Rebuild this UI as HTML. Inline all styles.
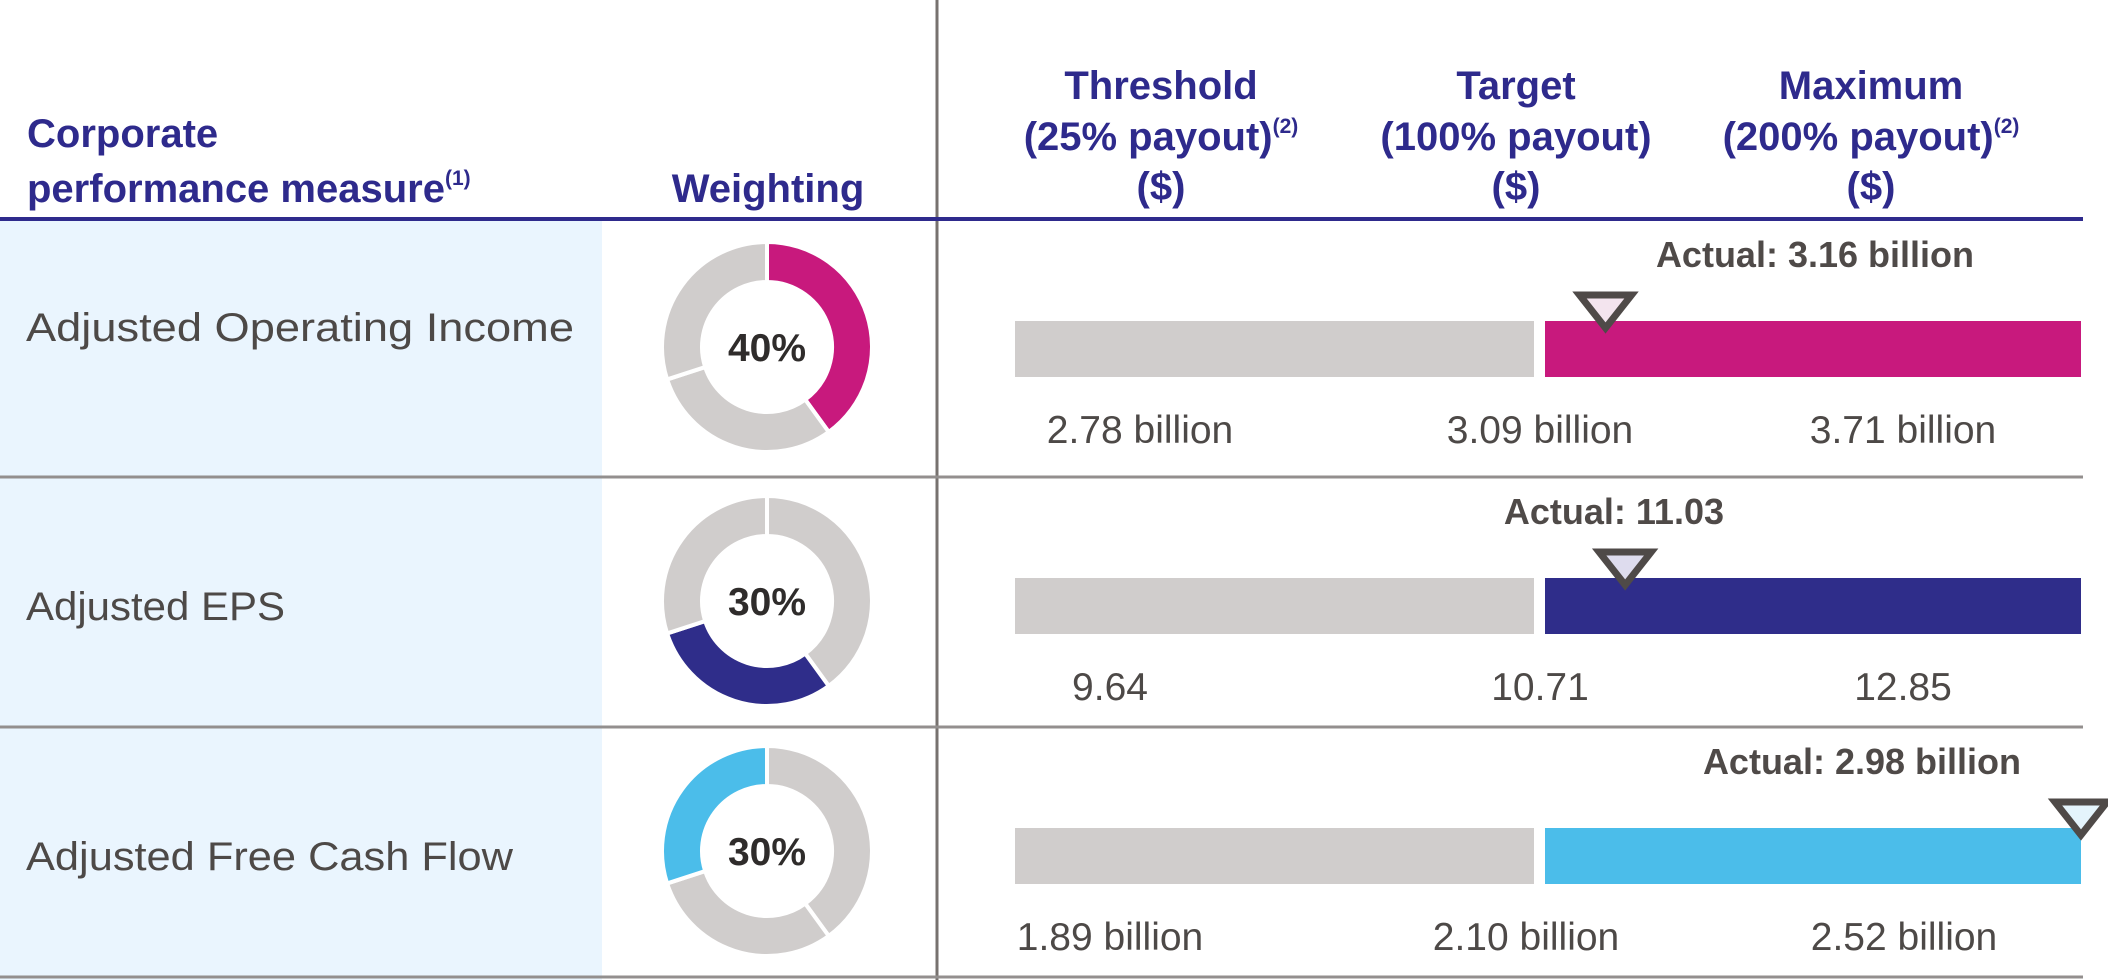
<!DOCTYPE html>
<html><head><meta charset="utf-8"><style>
html,body{margin:0;padding:0;background:#fff;}
svg{display:block;font-family:"Liberation Sans",sans-serif;}
</style></head><body>
<svg id="chart" width="2108" height="980" viewBox="0 0 2108 980" xmlns="http://www.w3.org/2000/svg">
<rect x="0" y="221" width="602" height="759" fill="#eaf5fe"/>
<line x1="937" y1="0" x2="937" y2="980" stroke="#77726f" stroke-width="3"/>
<line x1="0" y1="219" x2="2083" y2="219" stroke="#2e2a8c" stroke-width="4"/>
<line x1="0" y1="477" x2="2083" y2="477" stroke="#938f8e" stroke-width="3"/>
<line x1="0" y1="727" x2="2083" y2="727" stroke="#938f8e" stroke-width="3"/>
<line x1="0" y1="977" x2="2083" y2="977" stroke="#938f8e" stroke-width="3"/>
<g fill="#2e2a8c" font-weight="bold" font-size="40">
<text x="27" y="147">Corporate</text>
<text x="27" y="202">performance measure<tspan font-size="21" dy="-17">(1)</tspan></text>
<text x="768" y="202" text-anchor="middle">Weighting</text>
<text x="1161" y="99" text-anchor="middle">Threshold</text>
<text x="1161" y="150" text-anchor="middle">(25% payout)<tspan font-size="21" dy="-17">(2)</tspan></text>
<text x="1161" y="200" text-anchor="middle">($)</text>
<text x="1516" y="99" text-anchor="middle">Target</text>
<text x="1516" y="150" text-anchor="middle">(100% payout)</text>
<text x="1516" y="200" text-anchor="middle">($)</text>
<text x="1871" y="99" text-anchor="middle">Maximum</text>
<text x="1871" y="150" text-anchor="middle">(200% payout)<tspan font-size="21" dy="-17">(2)</tspan></text>
<text x="1871" y="200" text-anchor="middle">($)</text>
</g>
<g id="rows"></g>
</svg>
<script>
const measures = ["Adjusted Operating Income", "Adjusted EPS", "Adjusted Free Cash Flow"];
const weights = [40, 30, 30];
const highlightSlot = [0, 1, 2];
const thresholds = [2.78, 9.64, 1.89];
const targets = [3.09, 10.71, 2.10];
const maximums = [3.71, 12.85, 2.52];
const actuals = [3.16, 11.03, 2.98];
const thresholdLabels = ["2.78 billion", "9.64", "1.89 billion"];
const targetLabels = ["3.09 billion", "10.71", "2.10 billion"];
const maximumLabels = ["3.71 billion", "12.85", "2.52 billion"];
const actualLabels = ["Actual: 3.16 billion", "Actual: 11.03", "Actual: 2.98 billion"];

const colors = ["#c8197d", "#2f2d8a", "#4bbdea"];
const tints = ["#f3e4ee", "#dedcee", "#e4f4fc"];
const NS = "http://www.w3.org/2000/svg";
const g = document.getElementById("rows");
const rowTop = [221, 479, 729];
const rowH = [256, 248, 248];
const labelBase = [341, 620, 870];
const labelWidths = [548, 259, 487];
const actualRight = [1974, 1724, 2021];
const valueCols = [[1140, 1540, 1903], [1110, 1540, 1903], [1110, 1526, 1904]];
const grayX0 = 1015, grayX1 = 1534, colX0 = 1545, colX1 = 2081;

function mk(tag, attrs, parent) {
  const e = document.createElementNS(NS, tag);
  for (const k in attrs) e.setAttribute(k, attrs[k]);
  (parent || g).appendChild(e);
  return e;
}
function xScale(i, v) {
  if (v <= targets[i]) {
    const f = (v - thresholds[i]) / (targets[i] - thresholds[i]);
    return grayX0 + Math.max(0, f) * (grayX1 - grayX0);
  }
  const f = Math.min(1, (v - targets[i]) / (maximums[i] - targets[i]));
  return colX0 + f * (colX1 - colX0);
}
function arcPath(cx, cy, r0, r1, a0, a1) {
  const p = (r, a) => [cx + r * Math.sin(a), cy - r * Math.cos(a)];
  const large = (a1 - a0) > Math.PI ? 1 : 0;
  const [x0, y0] = p(r1, a0), [x1, y1] = p(r1, a1), [x2, y2] = p(r0, a1), [x3, y3] = p(r0, a0);
  return `M${x0},${y0} A${r1},${r1} 0 ${large} 1 ${x1},${y1} L${x2},${y2} A${r0},${r0} 0 ${large} 0 ${x3},${y3} Z`;
}

measures.forEach((m, i) => {
  const cy = rowTop[i] + rowH[i] / 2 - 2;
  const label = mk("text", {x: 26, y: labelBase[i], "font-size": 40, fill: "#4d4947", textLength: labelWidths[i], lengthAdjust: "spacingAndGlyphs"});
  
  
  label.textContent = m;

  const cx = 767;
  let acc = 0;
  weights.forEach((w, k) => {
    const a0 = acc / 100 * 2 * Math.PI, a1 = (acc + w) / 100 * 2 * Math.PI;
    acc += w;
    const seg = mk("path", {d: arcPath(cx, cy, 65, 105, a0, a1), fill: k === highlightSlot[i] ? colors[i] : "#d0cdcc", stroke: "#fff", "stroke-width": 4});
    
    
  });
  const pct = mk("text", {x: cx, y: cy + 14, "font-size": 39, "font-weight": "bold", fill: "#2f2c2b", "text-anchor": "middle"});
  
  
  pct.textContent = weights[i] + "%";

  const by = rowTop[i] + 100 + (i === 0 ? 0 : -1);
  const b1 = mk("rect", {x: xScale(i, thresholds[i]), y: by, width: xScale(i, targets[i]) - xScale(i, thresholds[i]), height: 56, fill: "#d0cdcc"});
  
  
  const b2 = mk("rect", {x: colX0, y: by, width: xScale(i, maximums[i]) - colX0, height: 56, fill: colors[i]});
  
  

  const ax = xScale(i, actuals[i]);
  const tri = mk("path", {d: `M${ax - 26},${by - 26} L${ax + 26},${by - 26} L${ax},${by + 7} Z`, fill: tints[i], stroke: "#4f4a48", "stroke-width": 7});
  
  
  const al = mk("text", {x: actualRight[i], y: by - 54, "font-size": 36, "font-weight": "bold", fill: "#4f4a48", "text-anchor": "end"});
  
  
  al.textContent = actualLabels[i];

  const ly = by + 122;
  const labs = [thresholdLabels[i], targetLabels[i], maximumLabels[i]];
  labs.forEach((t, k) => {
    const tl = mk("text", {x: valueCols[i][k], y: ly, "font-size": 39, fill: "#4d4947", "text-anchor": "middle"});
    
    
    tl.textContent = t;
  });
});
</script>
</body></html>
